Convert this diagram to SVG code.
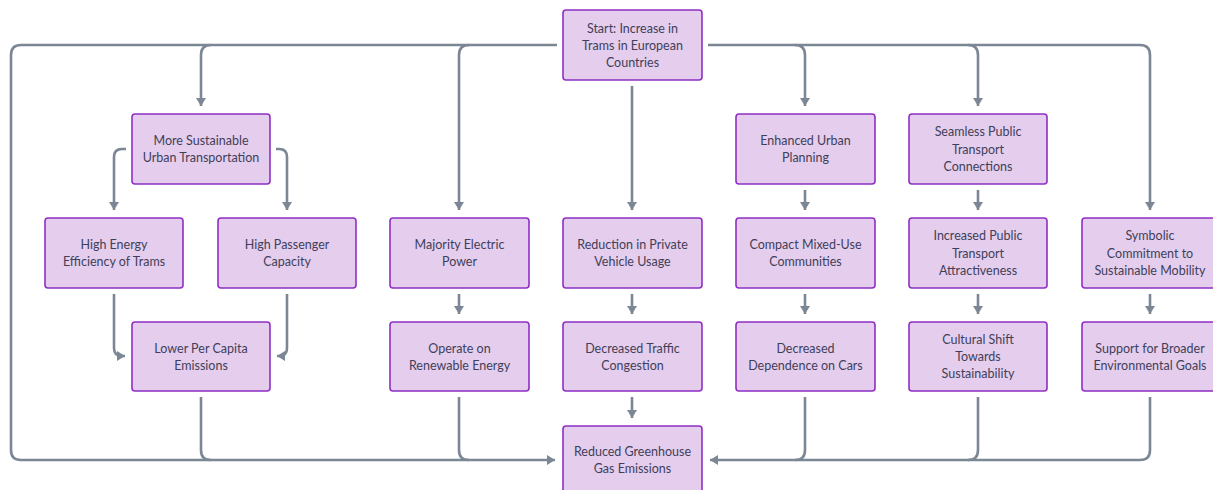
<svg xmlns="http://www.w3.org/2000/svg" width="1213" height="490" viewBox="0 0 1213 490">
  <style>
    .node rect { fill: #e5cdee; stroke: #8f2fc4; stroke-width: 1.6; }
    .node text { font-family: Lato, "Liberation Sans", sans-serif; font-size: 12.5px; fill: #3f3f58; text-anchor: middle; dominant-baseline: central; }
    .edges path { fill: none; stroke: #7b8794; stroke-width: 2.6; }
    .edges .arr { marker-end: url(#head); }
  </style>
  <defs>
    <marker id="head" markerUnits="userSpaceOnUse" markerWidth="12" markerHeight="12" refX="8" refY="6" orient="auto">
      <path d="M0,1 L8,6 L0,11 Z" fill="#7b8794"/>
    </marker>
  </defs>
  <rect width="1213" height="490" fill="#ffffff"/>

  <g class="edges">
    <!-- left loop and branches from the start node -->
    <path class="arr" d="M557,45 H21 Q11,45 11,55 V450 Q11,460 21,460 H555"/>
    <path class="arr" d="M211,45 Q201,45 201,55 V106"/>
    <path class="arr" d="M469,45 Q459,45 459,55 V210"/>
    <!-- right loop and branches -->
    <path class="arr" d="M708,45 H1140 Q1150,45 1150,55 V210"/>
    <path class="arr" d="M795,45 Q805,45 805,55 V106"/>
    <path class="arr" d="M968,45 Q978,45 978,55 V106"/>
    <!-- centre column -->
    <path class="arr" d="M632,86 V210"/>
    <path class="arr" d="M632,294 V314"/>
    <path class="arr" d="M632,397 V418"/>
    <!-- sustainable transport split -->
    <path class="arr" d="M126,149 H122 Q114,149 114,157 V210"/>
    <path class="arr" d="M276,149 H279 Q287,149 287,157 V210"/>
    <path class="arr" d="M114,294 V348 Q114,356 122,356 H125"/>
    <path class="arr" d="M287,294 V348 Q287,356 279,356 H277"/>
    <!-- column chains -->
    <path class="arr" d="M459,294 V314"/>
    <path class="arr" d="M805,190 V210"/>
    <path class="arr" d="M805,294 V314"/>
    <path class="arr" d="M978,190 V210"/>
    <path class="arr" d="M978,294 V314"/>
    <path class="arr" d="M1150,294 V314"/>
    <!-- into reduced emissions -->
    <path d="M201,397 V450 Q201,460 211,460"/>
    <path d="M459,397 V450 Q459,460 469,460"/>
    <path class="arr" d="M1150,397 V450 Q1150,460 1140,460 H710"/>
    <path d="M978,397 V450 Q978,460 968,460"/>
    <path d="M805,397 V450 Q805,460 795,460"/>
  </g>

  <g id="start" class="node">
    <rect x="563" y="10" width="139" height="70" rx="3"/>
    <text x="632.5" y="28">Start: Increase in</text>
    <text x="632.5" y="45">Trams in European</text>
    <text x="632.5" y="62">Countries</text>
  </g>
  <g id="sustainable" class="node">
    <rect x="132" y="114" width="138" height="70" rx="3"/>
    <text x="201" y="140.5">More Sustainable</text>
    <text x="201" y="157.5">Urban Transportation</text>
  </g>
  <g id="efficiency" class="node">
    <rect x="45" y="218" width="138" height="70" rx="3"/>
    <text x="114" y="244.5">High Energy</text>
    <text x="114" y="261.5">Efficiency of Trams</text>
  </g>
  <g id="capacity" class="node">
    <rect x="218" y="218" width="138" height="70" rx="3"/>
    <text x="287" y="244.5">High Passenger</text>
    <text x="287" y="261.5">Capacity</text>
  </g>
  <g id="percapita" class="node">
    <rect x="132" y="322" width="138" height="69" rx="3"/>
    <text x="201" y="348">Lower Per Capita</text>
    <text x="201" y="365">Emissions</text>
  </g>
  <g id="electric" class="node">
    <rect x="390" y="218" width="139" height="70" rx="3"/>
    <text x="459.5" y="244.5">Majority Electric</text>
    <text x="459.5" y="261.5">Power</text>
  </g>
  <g id="renewable" class="node">
    <rect x="390" y="322" width="139" height="69" rx="3"/>
    <text x="459.5" y="348">Operate on</text>
    <text x="459.5" y="365">Renewable Energy</text>
  </g>
  <g id="private" class="node">
    <rect x="563" y="218" width="139" height="70" rx="3"/>
    <text x="632.5" y="244.5">Reduction in Private</text>
    <text x="632.5" y="261.5">Vehicle Usage</text>
  </g>
  <g id="congestion" class="node">
    <rect x="563" y="322" width="139" height="69" rx="3"/>
    <text x="632.5" y="348">Decreased Traffic</text>
    <text x="632.5" y="365">Congestion</text>
  </g>
  <g id="planning" class="node">
    <rect x="736" y="114" width="139" height="70" rx="3"/>
    <text x="805.5" y="140.5">Enhanced Urban</text>
    <text x="805.5" y="157.5">Planning</text>
  </g>
  <g id="mixeduse" class="node">
    <rect x="736" y="218" width="139" height="70" rx="3"/>
    <text x="805.5" y="244.5">Compact Mixed-Use</text>
    <text x="805.5" y="261.5">Communities</text>
  </g>
  <g id="cars" class="node">
    <rect x="736" y="322" width="139" height="69" rx="3"/>
    <text x="805.5" y="348">Decreased</text>
    <text x="805.5" y="365">Dependence on Cars</text>
  </g>
  <g id="seamless" class="node">
    <rect x="909" y="114" width="138" height="70" rx="3"/>
    <text x="978" y="131.5">Seamless Public</text>
    <text x="978" y="149">Transport</text>
    <text x="978" y="166">Connections</text>
  </g>
  <g id="attractiveness" class="node">
    <rect x="909" y="218" width="138" height="70" rx="3"/>
    <text x="978" y="235.5">Increased Public</text>
    <text x="978" y="253">Transport</text>
    <text x="978" y="270">Attractiveness</text>
  </g>
  <g id="culture" class="node">
    <rect x="909" y="322" width="138" height="69" rx="3"/>
    <text x="978" y="339">Cultural Shift</text>
    <text x="978" y="356.5">Towards</text>
    <text x="978" y="373.5">Sustainability</text>
  </g>
  <g id="symbolic" class="node">
    <rect x="1082" y="218" width="139" height="70" rx="3"/>
    <text x="1150" y="235.5">Symbolic</text>
    <text x="1150" y="253">Commitment to</text>
    <text x="1150" y="270">Sustainable Mobility</text>
  </g>
  <g id="broader" class="node">
    <rect x="1082" y="322" width="139" height="69" rx="3"/>
    <text x="1150" y="348">Support for Broader</text>
    <text x="1150" y="365">Environmental Goals</text>
  </g>
  <g id="reduced" class="node">
    <rect x="563" y="426" width="139" height="70" rx="3"/>
    <text x="632.5" y="451.5">Reduced Greenhouse</text>
    <text x="632.5" y="468.5">Gas Emissions</text>
  </g>
</svg>
